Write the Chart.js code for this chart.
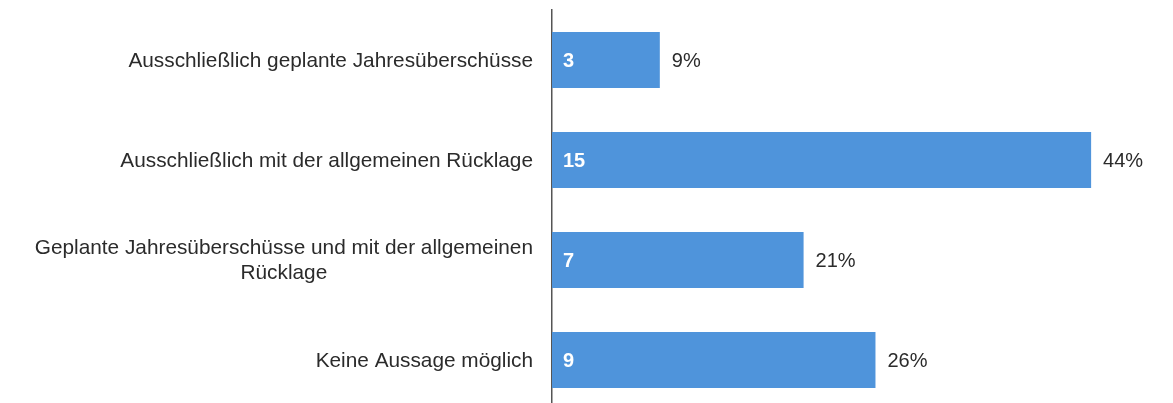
<!DOCTYPE html>
<html>
<head>
<meta charset="utf-8">
<script src="https://cdn.jsdelivr.net/npm/chart.js@4"></script>
<style>
  html, body { margin: 0; padding: 0; background: #fff; overflow: hidden; }
  #wrap { position: relative; width: 1173px; height: 410px; }
</style>
</head>
<body>
<div id="wrap"><canvas id="chart"></canvas></div>
<script>
// data
const categories = [
  ["Ausschließlich geplante Jahresüberschüsse"],
  ["Ausschließlich mit der allgemeinen Rücklage"],
  ["Geplante Jahresüberschüsse und mit der allgemeinen", "Rücklage"],
  ["Keine Aussage möglich"]
];
const counts = [3, 15, 7, 9];
const percents = ["9%", "44%", "21%", "26%"];

const FONT = "'Liberation Sans', Arial, sans-serif";
const TEXT = "#2b2b2b";

// category labels drawn next to the axis: block right-aligned, lines centred
const labelPlugin = {
  id: "labels",
  afterDatasetsDraw(chart) {
    const ctx = chart.ctx;
    const y = chart.scales.y;
    const meta = chart.getDatasetMeta(0);
    ctx.save();
    ctx.textBaseline = "middle";

    // category names
    ctx.font = "20.8px " + FONT;
    ctx.fillStyle = TEXT;
    ctx.textAlign = "center";
    const right = y.right - 19;
    categories.forEach((lines, i) => {
      const cy = y.getPixelForValue(i);
      const w = Math.max(...lines.map(l => ctx.measureText(l).width));
      const lh = 25;
      const y0 = cy - (lines.length - 1) * lh / 2 + 1;
      lines.forEach((l, j) => ctx.fillText(l, right - w / 2, y0 + j * lh));
    });

    // counts inside bars, percentages after bars
    ctx.textAlign = "left";
    meta.data.forEach((bar, i) => {
      ctx.font = "bold 20px " + FONT;
      ctx.fillStyle = "#ffffff";
      ctx.fillText(String(counts[i]), bar.base + 11, bar.y + 1);
      ctx.font = "20px " + FONT;
      ctx.fillStyle = TEXT;
      ctx.fillText(percents[i], bar.x + 12, bar.y + 1);
    });
    ctx.restore();
  }
};

new Chart(document.getElementById("chart"), {
  type: "bar",
  data: {
    labels: categories.map(c => c.join(" ")),
    datasets: [{
      data: counts,
      backgroundColor: "#4f94db",
      borderWidth: 0,
      barPercentage: 0.56,
      categoryPercentage: 1
    }]
  },
  options: {
    indexAxis: "y",
    responsive: true,
    maintainAspectRatio: false,
    animation: false,
    layout: { padding: { top: 10, right: 10, bottom: 0, left: 0 } },
    plugins: { legend: { display: false }, tooltip: { enabled: false } },
    scales: {
      x: {
        min: 0,
        max: 17,
        display: false
      },
      y: {
        grid: { display: false },
        ticks: { display: false },
        border: { display: true, color: "#555", width: 1.5 },
        afterFit(scale) { scale.width = 552; }
      }
    }
  },
  plugins: [labelPlugin]
});
</script>
</body>
</html>
